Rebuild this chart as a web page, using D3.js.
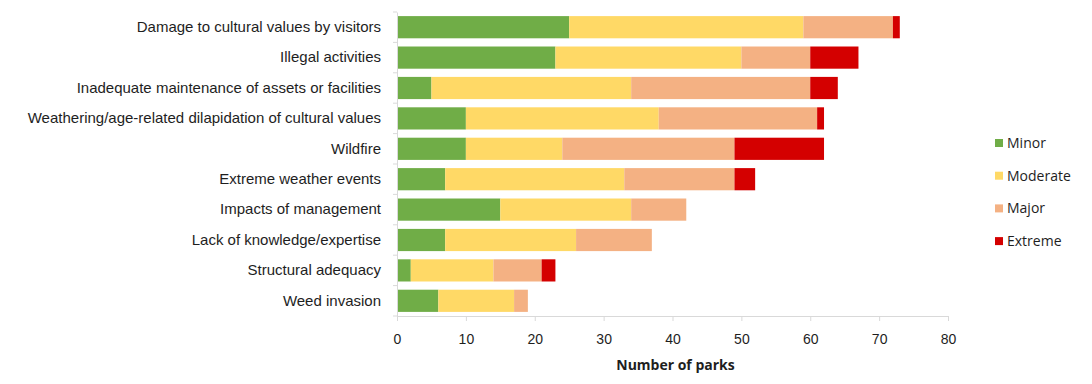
<!DOCTYPE html>
<html>
<head>
<meta charset="utf-8">
<script src="https://cdn.jsdelivr.net/npm/d3@7"></script>
<style>
  body { margin: 0; background: #fff; }
  svg { display: block; font-family: "Open Sans", sans-serif; }
</style>
</head>
<body>
<svg id="chart"></svg>
<script>
// data
const categories = [
  "Damage to cultural values by visitors",
  "Illegal activities",
  "Inadequate maintenance of assets or facilities",
  "Weathering/age-related dilapidation of cultural values",
  "Wildfire",
  "Extreme weather events",
  "Impacts of management",
  "Lack of knowledge/expertise",
  "Structural adequacy",
  "Weed invasion"
];
const severities = ["Minor", "Moderate", "Major", "Extreme"];
const minor    = [25, 23, 5, 10, 10, 7, 15, 7, 2, 6];
const moderate = [34, 27, 29, 28, 14, 26, 19, 19, 12, 11];
const major    = [13, 10, 26, 23, 25, 16, 8, 11, 7, 2];
const extreme  = [1, 7, 4, 1, 13, 3, 0, 0, 2, 0];
const xTicks = [0, 10, 20, 30, 40, 50, 60, 70, 80];
const colors = ["#70ad47", "#ffd966", "#f4b183", "#d40000"];

const width = 1092, height = 384;
const margin = { top: 12, left: 397, right: 144, bottom: 68 };

const svg = d3.select("#chart")
  .attr("width", width)
  .attr("height", height);

const rows = categories.map((c, i) => ({
  name: c, Minor: minor[i], Moderate: moderate[i], Major: major[i], Extreme: extreme[i]
}));

const stacked = d3.stack().keys(severities)(rows);

const x = d3.scaleLinear()
  .domain([0, 80])
  .range([margin.left, width - margin.right]);

const y = d3.scaleBand()
  .domain(categories)
  .range([margin.top, height - margin.bottom])
  .paddingInner(0.27)
  .paddingOuter(0.135);

const color = d3.scaleOrdinal().domain(severities).range(colors);

// bars
svg.append("g")
  .selectAll("g")
  .data(stacked)
  .join("g")
  .attr("fill", d => color(d.key))
  .selectAll("rect")
  .data(d => d)
  .join("rect")
  .attr("x", d => x(d[0]))
  .attr("y", d => y(d.data.name))
  .attr("width", d => x(d[1]) - x(d[0]))
  .attr("height", y.bandwidth());

// x axis
const xAxis = svg.append("g")
  .attr("transform", `translate(0, ${height - margin.bottom})`)
  .call(d3.axisBottom(x).tickValues(xTicks).tickSize(5).tickPadding(13));

xAxis.selectAll(".tick text").style("font-size", "14px");

// y axis
const yAxis = svg.append("g")
  .attr("transform", `translate(${margin.left}, 0)`)
  .call(d3.axisLeft(y).tickSize(0).tickPadding(16));

yAxis.selectAll(".tick text").style("font-size", "15px");

// category ticks sit between bands, like the original
yAxis.selectAll(".sep")
  .data(categories.concat([null]))
  .join("line")
  .attr("class", "sep")
  .attr("x1", -4).attr("x2", 0)
  .attr("y1", (d, i) => margin.top + i * y.step())
  .attr("y2", (d, i) => margin.top + i * y.step())
  .attr("stroke", "#d9d9d9");

svg.selectAll(".domain, .tick line").attr("stroke", "#d9d9d9");
svg.selectAll(".tick text").style("fill", "#1e1e1e");

// axis title
svg.append("text")
  .attr("x", (x(0) + x(80)) / 2 + 3)
  .attr("y", 370)
  .attr("text-anchor", "middle")
  .style("font-size", "14px")
  .style("font-weight", "bold")
  .style("fill", "#1e1e1e")
  .text("Number of parks");

// legend
const legend = svg.append("g")
  .selectAll("g")
  .data(severities)
  .join("g")
  .attr("transform", (d, i) => `translate(995, ${143 + i * 32.7})`);

legend.append("rect")
  .attr("x", 0).attr("y", -4)
  .attr("width", 8).attr("height", 8)
  .attr("fill", d => color(d));

legend.append("text")
  .attr("x", 12)
  .attr("dy", "0.35em")
  .style("font-size", "14px")
  .style("fill", "#1e1e1e")
  .text(d => d);
</script>
</body>
</html>
